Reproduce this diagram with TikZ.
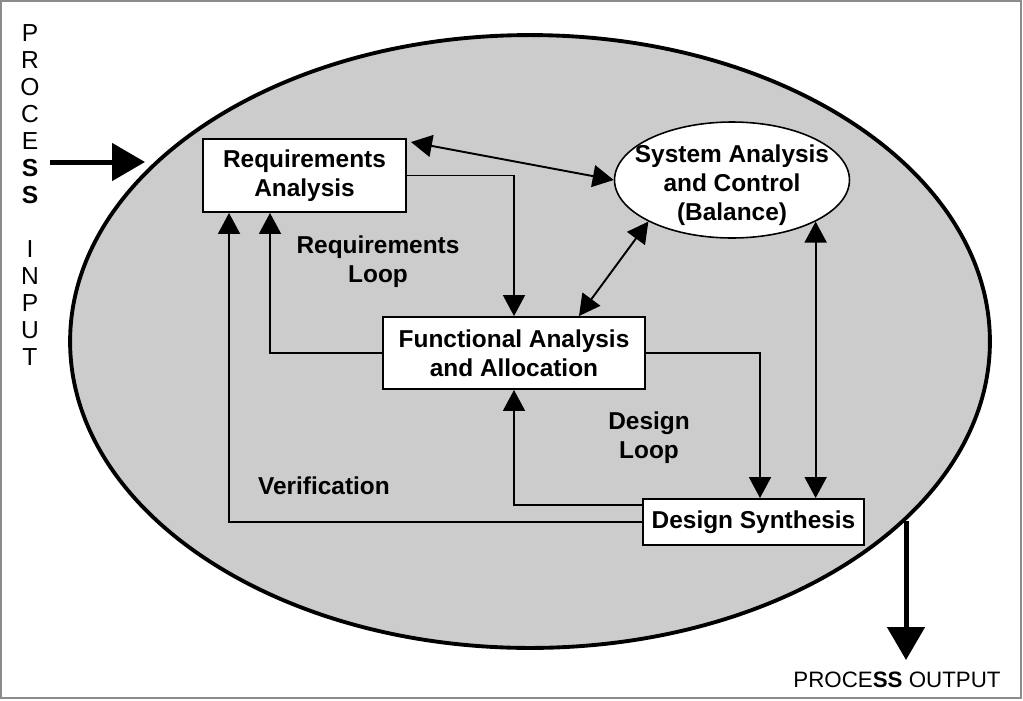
\documentclass[tikz,border=0pt]{standalone}
\usepackage{fontspec}
\setmainfont{Liberation Sans}
\usetikzlibrary{arrows.meta}
\usetikzlibrary{shapes.geometric}
\usetikzlibrary{calc}

\tikzset{
  blk/.style={draw=black, line width=1.1pt, fill=white, align=center, inner sep=0pt,
    font=\bfseries\fontsize{13.9}{16.5}\selectfont},
  lbl/.style={align=center, font=\bfseries\fontsize{13.9}{16.5}\selectfont},
  link/.style={draw=black, line width=1.1pt},
  biglink/.style={line width=0.1cm, -{Triangle[length=0.66cm,width=0.74cm]}},
  vletter/.style={font=\fontsize{14}{15}\selectfont, inner sep=0pt},
}

\begin{document}
\begin{tikzpicture}[x=0.02cm, y=-0.02cm, >={Triangle[length=0.42cm,width=0.44cm]}]
\useasboundingbox (0,0) rectangle (1023,700);
\draw[black!45, line width=0.6pt] (1,1) rectangle (1021,698);

\node[ellipse, draw, line width=2.2pt, fill=black!20, minimum width=18.4cm, minimum height=12.26cm, inner sep=0pt] (env) at (530,341.5) {};

\node[blk, minimum width=4.06cm, minimum height=1.46cm] (req) at (304.5,175.5) {Requirements\\Analysis};
\node[ellipse, draw, fill=white, line width=0.9pt, minimum width=4.7cm, minimum height=2.32cm, inner sep=0pt,
  label={[lbl, yshift=-0.1cm]center:{System Analysis\\and Control\\(Balance)}}] (sac) at (732,180) {};
\node[blk, minimum width=5.24cm, minimum height=1.44cm] (fun) at (514,353) {Functional Analysis\\and Allocation};
\node[blk, minimum width=4.42cm, minimum height=0.92cm] (syn) at (753.5,522) {Design Synthesis};

\node[lbl] (rloop) at (378,262) {Requirements\\Loop};
\node[lbl] (dloop) at (649,438) {Design\\Loop};
\node[lbl] (verif) at (324,486) {Verification};

\draw[link, <->] ([shift={(4,4)}]req.north east) -- (sac.west);
\draw[link, ->] (req.east) -| (fun.north);
\draw[link, <->] (sac.south west) -- ([xshift=1.3cm]fun.north);
\draw[link, <->] (sac.south east) -- (sac.south east |- syn.north);
\draw[link, ->] (fun.east) -| ([xshift=0.13cm]syn.north);
\draw[link, ->] ([yshift=0.34cm]syn.west) -| (fun.south);
\draw[link, ->] (fun.west) -| ([xshift=-0.69cm]req.south);
\draw[link, ->] (syn.west) -| ([xshift=-1.51cm]req.south);

\foreach \ch [count=\i] in {P,R,O,C,E,\textbf{S},\textbf{S}}
  \node[vletter] (pin\i) at (30,6+27*\i) {\ch};
\foreach \ch [count=\i] in {I,N,P,U,T}
  \node[vletter] (inp\i) at (30,222+27*\i) {\ch};

\coordinate (inStart) at (50,162);
\coordinate (outStart) at (906,521);
\coordinate (outEnd) at (906,660);
\draw[biglink] (inStart) -- ++(95,0);
\draw[biglink] (outStart) -- (outEnd);
\node[font=\fontsize{12.7}{15}\selectfont, inner sep=0pt] (pout) at (897,680) {PROCE\textbf{SS} OUTPUT};
\end{tikzpicture}
\end{document}
